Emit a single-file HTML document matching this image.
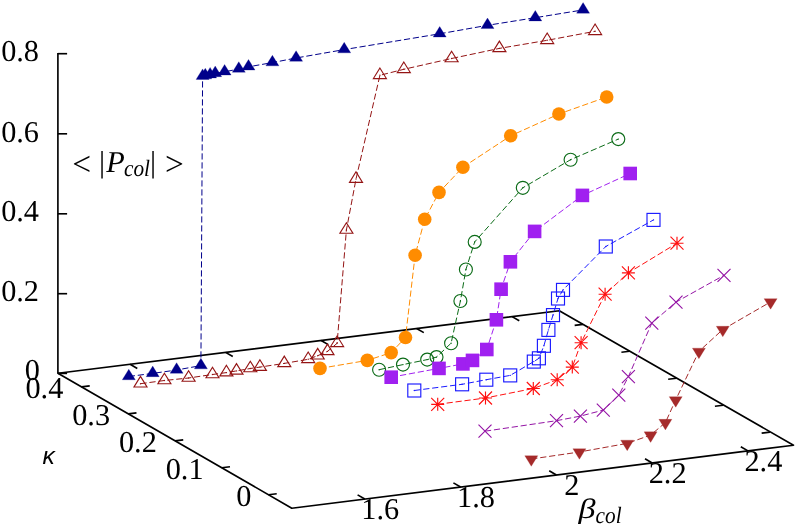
<!DOCTYPE html>
<html><head><meta charset="utf-8"><title>plot</title>
<style>html,body{margin:0;padding:0;background:#fff;}body{width:797px;height:525px;overflow:hidden;font-family:"Liberation Serif",serif;}</style></head>
<body>
<svg width="797" height="525" viewBox="0 0 797 525" style="display:block;will-change:transform">
<rect width="797" height="525" fill="#fff"/>
<g stroke-linecap="butt">
<path d="M57.9,373.3 L559.3,310.7 L793.5,445.2 L291.8,508.2 Z" fill="none" stroke="#000" stroke-width="1.65" stroke-linejoin="round"/>
<line x1="57.90" y1="52.95" x2="57.90" y2="373.30" stroke="#000" stroke-width="1.65" />
<line x1="57.90" y1="53.70" x2="67.10" y2="53.70" stroke="#000" stroke-width="1.65" />
<line x1="57.90" y1="133.80" x2="67.10" y2="133.80" stroke="#000" stroke-width="1.65" />
<line x1="57.90" y1="213.80" x2="67.10" y2="213.80" stroke="#000" stroke-width="1.65" />
<line x1="57.90" y1="293.70" x2="67.10" y2="293.70" stroke="#000" stroke-width="1.65" />
<line x1="57.90" y1="373.40" x2="67.10" y2="373.40" stroke="#000" stroke-width="1.65" />
<line x1="364.80" y1="499.03" x2="357.61" y2="494.89" stroke="#000" stroke-width="1.65" />
<line x1="130.10" y1="364.29" x2="137.29" y2="368.43" stroke="#000" stroke-width="1.65" />
<line x1="460.60" y1="487.00" x2="453.41" y2="482.86" stroke="#000" stroke-width="1.65" />
<line x1="225.60" y1="352.36" x2="232.79" y2="356.51" stroke="#000" stroke-width="1.65" />
<line x1="556.40" y1="474.97" x2="549.21" y2="470.83" stroke="#000" stroke-width="1.65" />
<line x1="321.10" y1="340.44" x2="328.29" y2="344.59" stroke="#000" stroke-width="1.65" />
<line x1="652.20" y1="462.94" x2="645.01" y2="458.80" stroke="#000" stroke-width="1.65" />
<line x1="416.60" y1="328.52" x2="423.79" y2="332.66" stroke="#000" stroke-width="1.65" />
<line x1="748.00" y1="450.91" x2="740.81" y2="446.77" stroke="#000" stroke-width="1.65" />
<line x1="512.10" y1="316.59" x2="519.29" y2="320.74" stroke="#000" stroke-width="1.65" />
<line x1="81.50" y1="386.91" x2="89.74" y2="385.88" stroke="#000" stroke-width="1.65" />
<line x1="582.90" y1="324.31" x2="574.66" y2="325.34" stroke="#000" stroke-width="1.65" />
<line x1="128.25" y1="413.87" x2="136.49" y2="412.85" stroke="#000" stroke-width="1.65" />
<line x1="629.65" y1="351.27" x2="621.41" y2="352.30" stroke="#000" stroke-width="1.65" />
<line x1="175.00" y1="440.84" x2="183.24" y2="439.81" stroke="#000" stroke-width="1.65" />
<line x1="676.40" y1="378.24" x2="668.16" y2="379.26" stroke="#000" stroke-width="1.65" />
<line x1="221.75" y1="467.80" x2="229.99" y2="466.77" stroke="#000" stroke-width="1.65" />
<line x1="723.15" y1="405.20" x2="714.91" y2="406.23" stroke="#000" stroke-width="1.65" />
<line x1="268.50" y1="494.76" x2="276.74" y2="493.73" stroke="#000" stroke-width="1.65" />
<line x1="769.90" y1="432.16" x2="761.66" y2="433.19" stroke="#000" stroke-width="1.65" />
</g>
<path d="M128.80,376.50 L152.70,373.40 L176.60,370.00 L200.90,365.60 L202.60,76.20 L205.30,75.60 L210.10,74.70 L215.20,73.40 L224.60,71.80 L238.80,69.00 L248.50,66.80 L272.40,62.60 L296.10,58.00 L344.20,49.60 L439.70,33.80 L487.50,25.30 L535.30,17.70 L583.10,9.90" fill="none" stroke="#00008b" stroke-width="1.0" stroke-dasharray="6.2 2.8"/>
<path d="M128.80,369.22 L122.30,379.75 L135.30,379.75 Z" fill="#00008b" stroke="#00008b" stroke-width="0.25" stroke-linejoin="miter"/>
<path d="M152.70,366.12 L146.20,376.65 L159.20,376.65 Z" fill="#00008b" stroke="#00008b" stroke-width="0.25" stroke-linejoin="miter"/>
<path d="M176.60,362.72 L170.10,373.25 L183.10,373.25 Z" fill="#00008b" stroke="#00008b" stroke-width="0.25" stroke-linejoin="miter"/>
<path d="M200.90,358.32 L194.40,368.85 L207.40,368.85 Z" fill="#00008b" stroke="#00008b" stroke-width="0.25" stroke-linejoin="miter"/>
<path d="M202.60,68.92 L196.10,79.45 L209.10,79.45 Z" fill="#00008b" stroke="#00008b" stroke-width="0.25" stroke-linejoin="miter"/>
<path d="M205.30,68.32 L198.80,78.85 L211.80,78.85 Z" fill="#00008b" stroke="#00008b" stroke-width="0.25" stroke-linejoin="miter"/>
<path d="M210.10,67.42 L203.60,77.95 L216.60,77.95 Z" fill="#00008b" stroke="#00008b" stroke-width="0.25" stroke-linejoin="miter"/>
<path d="M215.20,66.12 L208.70,76.65 L221.70,76.65 Z" fill="#00008b" stroke="#00008b" stroke-width="0.25" stroke-linejoin="miter"/>
<path d="M224.60,64.52 L218.10,75.05 L231.10,75.05 Z" fill="#00008b" stroke="#00008b" stroke-width="0.25" stroke-linejoin="miter"/>
<path d="M238.80,61.72 L232.30,72.25 L245.30,72.25 Z" fill="#00008b" stroke="#00008b" stroke-width="0.25" stroke-linejoin="miter"/>
<path d="M248.50,59.52 L242.00,70.05 L255.00,70.05 Z" fill="#00008b" stroke="#00008b" stroke-width="0.25" stroke-linejoin="miter"/>
<path d="M272.40,55.32 L265.90,65.85 L278.90,65.85 Z" fill="#00008b" stroke="#00008b" stroke-width="0.25" stroke-linejoin="miter"/>
<path d="M296.10,50.72 L289.60,61.25 L302.60,61.25 Z" fill="#00008b" stroke="#00008b" stroke-width="0.25" stroke-linejoin="miter"/>
<path d="M344.20,42.32 L337.70,52.85 L350.70,52.85 Z" fill="#00008b" stroke="#00008b" stroke-width="0.25" stroke-linejoin="miter"/>
<path d="M439.70,26.52 L433.20,37.05 L446.20,37.05 Z" fill="#00008b" stroke="#00008b" stroke-width="0.25" stroke-linejoin="miter"/>
<path d="M487.50,18.02 L481.00,28.55 L494.00,28.55 Z" fill="#00008b" stroke="#00008b" stroke-width="0.25" stroke-linejoin="miter"/>
<path d="M535.30,10.42 L528.80,20.95 L541.80,20.95 Z" fill="#00008b" stroke="#00008b" stroke-width="0.25" stroke-linejoin="miter"/>
<path d="M583.10,2.62 L576.60,13.15 L589.60,13.15 Z" fill="#00008b" stroke="#00008b" stroke-width="0.25" stroke-linejoin="miter"/>
<path d="M140.50,383.70 L164.40,380.50 L188.60,378.00 L212.50,374.50 L226.40,372.60 L236.50,370.90 L250.30,368.50 L259.90,367.10 L284.30,363.40 L308.20,359.30 L317.70,355.70 L327.50,351.40 L337.10,343.30 L346.40,230.00 L356.00,179.10 L379.90,75.30 L403.80,69.30 L451.60,58.50 L499.40,48.40 L547.20,40.30 L595.10,31.30" fill="none" stroke="#941414" stroke-width="1.0" stroke-dasharray="6.2 2.8"/>
<path d="M140.50,376.42 L134.00,386.95 L147.00,386.95 Z" fill="none" stroke="#941414" stroke-width="1.15" stroke-linejoin="miter"/>
<circle cx="140.50" cy="383.70" r="0.7" fill="#941414"/>
<path d="M164.40,373.22 L157.90,383.75 L170.90,383.75 Z" fill="none" stroke="#941414" stroke-width="1.15" stroke-linejoin="miter"/>
<circle cx="164.40" cy="380.50" r="0.7" fill="#941414"/>
<path d="M188.60,370.72 L182.10,381.25 L195.10,381.25 Z" fill="none" stroke="#941414" stroke-width="1.15" stroke-linejoin="miter"/>
<circle cx="188.60" cy="378.00" r="0.7" fill="#941414"/>
<path d="M212.50,367.22 L206.00,377.75 L219.00,377.75 Z" fill="none" stroke="#941414" stroke-width="1.15" stroke-linejoin="miter"/>
<circle cx="212.50" cy="374.50" r="0.7" fill="#941414"/>
<path d="M226.40,365.32 L219.90,375.85 L232.90,375.85 Z" fill="none" stroke="#941414" stroke-width="1.15" stroke-linejoin="miter"/>
<circle cx="226.40" cy="372.60" r="0.7" fill="#941414"/>
<path d="M236.50,363.62 L230.00,374.15 L243.00,374.15 Z" fill="none" stroke="#941414" stroke-width="1.15" stroke-linejoin="miter"/>
<circle cx="236.50" cy="370.90" r="0.7" fill="#941414"/>
<path d="M250.30,361.22 L243.80,371.75 L256.80,371.75 Z" fill="none" stroke="#941414" stroke-width="1.15" stroke-linejoin="miter"/>
<circle cx="250.30" cy="368.50" r="0.7" fill="#941414"/>
<path d="M259.90,359.82 L253.40,370.35 L266.40,370.35 Z" fill="none" stroke="#941414" stroke-width="1.15" stroke-linejoin="miter"/>
<circle cx="259.90" cy="367.10" r="0.7" fill="#941414"/>
<path d="M284.30,356.12 L277.80,366.65 L290.80,366.65 Z" fill="none" stroke="#941414" stroke-width="1.15" stroke-linejoin="miter"/>
<circle cx="284.30" cy="363.40" r="0.7" fill="#941414"/>
<path d="M308.20,352.02 L301.70,362.55 L314.70,362.55 Z" fill="none" stroke="#941414" stroke-width="1.15" stroke-linejoin="miter"/>
<circle cx="308.20" cy="359.30" r="0.7" fill="#941414"/>
<path d="M317.70,348.42 L311.20,358.95 L324.20,358.95 Z" fill="none" stroke="#941414" stroke-width="1.15" stroke-linejoin="miter"/>
<circle cx="317.70" cy="355.70" r="0.7" fill="#941414"/>
<path d="M327.50,344.12 L321.00,354.65 L334.00,354.65 Z" fill="none" stroke="#941414" stroke-width="1.15" stroke-linejoin="miter"/>
<circle cx="327.50" cy="351.40" r="0.7" fill="#941414"/>
<path d="M337.10,336.02 L330.60,346.55 L343.60,346.55 Z" fill="none" stroke="#941414" stroke-width="1.15" stroke-linejoin="miter"/>
<circle cx="337.10" cy="343.30" r="0.7" fill="#941414"/>
<path d="M346.40,222.72 L339.90,233.25 L352.90,233.25 Z" fill="none" stroke="#941414" stroke-width="1.15" stroke-linejoin="miter"/>
<circle cx="346.40" cy="230.00" r="0.7" fill="#941414"/>
<path d="M356.00,171.82 L349.50,182.35 L362.50,182.35 Z" fill="none" stroke="#941414" stroke-width="1.15" stroke-linejoin="miter"/>
<circle cx="356.00" cy="179.10" r="0.7" fill="#941414"/>
<path d="M379.90,68.02 L373.40,78.55 L386.40,78.55 Z" fill="none" stroke="#941414" stroke-width="1.15" stroke-linejoin="miter"/>
<circle cx="379.90" cy="75.30" r="0.7" fill="#941414"/>
<path d="M403.80,62.02 L397.30,72.55 L410.30,72.55 Z" fill="none" stroke="#941414" stroke-width="1.15" stroke-linejoin="miter"/>
<circle cx="403.80" cy="69.30" r="0.7" fill="#941414"/>
<path d="M451.60,51.22 L445.10,61.75 L458.10,61.75 Z" fill="none" stroke="#941414" stroke-width="1.15" stroke-linejoin="miter"/>
<circle cx="451.60" cy="58.50" r="0.7" fill="#941414"/>
<path d="M499.40,41.12 L492.90,51.65 L505.90,51.65 Z" fill="none" stroke="#941414" stroke-width="1.15" stroke-linejoin="miter"/>
<circle cx="499.40" cy="48.40" r="0.7" fill="#941414"/>
<path d="M547.20,33.02 L540.70,43.55 L553.70,43.55 Z" fill="none" stroke="#941414" stroke-width="1.15" stroke-linejoin="miter"/>
<circle cx="547.20" cy="40.30" r="0.7" fill="#941414"/>
<path d="M595.10,24.02 L588.60,34.55 L601.60,34.55 Z" fill="none" stroke="#941414" stroke-width="1.15" stroke-linejoin="miter"/>
<circle cx="595.10" cy="31.30" r="0.7" fill="#941414"/>
<path d="M320.00,368.40 L367.30,360.40 L391.20,352.60 L405.50,337.50 L415.10,255.30 L424.70,219.30 L439.00,192.40 L462.90,167.20 L510.70,135.80 L558.90,114.00 L606.70,97.00" fill="none" stroke="#ff8c00" stroke-width="1.0" stroke-dasharray="6.2 2.8"/>
<circle cx="320.00" cy="368.40" r="6.80" fill="#ff8c00"/>
<circle cx="367.30" cy="360.40" r="6.80" fill="#ff8c00"/>
<circle cx="391.20" cy="352.60" r="6.80" fill="#ff8c00"/>
<circle cx="405.50" cy="337.50" r="6.80" fill="#ff8c00"/>
<circle cx="415.10" cy="255.30" r="6.80" fill="#ff8c00"/>
<circle cx="424.70" cy="219.30" r="6.80" fill="#ff8c00"/>
<circle cx="439.00" cy="192.40" r="6.80" fill="#ff8c00"/>
<circle cx="462.90" cy="167.20" r="6.80" fill="#ff8c00"/>
<circle cx="510.70" cy="135.80" r="6.80" fill="#ff8c00"/>
<circle cx="558.90" cy="114.00" r="6.80" fill="#ff8c00"/>
<circle cx="606.70" cy="97.00" r="6.80" fill="#ff8c00"/>
<path d="M379.10,369.70 L403.00,364.60 L427.20,359.60 L436.50,357.10 L451.10,343.20 L460.40,301.00 L465.90,269.50 L474.70,241.90 L522.80,187.80 L570.60,159.70 L618.30,139.10" fill="none" stroke="#0b6b17" stroke-width="1.0" stroke-dasharray="6.2 2.8"/>
<circle cx="379.10" cy="369.70" r="6.50" fill="none" stroke="#0b6b17" stroke-width="1.15"/>
<circle cx="379.10" cy="369.70" r="0.7" fill="#0b6b17"/>
<circle cx="403.00" cy="364.60" r="6.50" fill="none" stroke="#0b6b17" stroke-width="1.15"/>
<circle cx="403.00" cy="364.60" r="0.7" fill="#0b6b17"/>
<circle cx="427.20" cy="359.60" r="6.50" fill="none" stroke="#0b6b17" stroke-width="1.15"/>
<circle cx="427.20" cy="359.60" r="0.7" fill="#0b6b17"/>
<circle cx="436.50" cy="357.10" r="6.50" fill="none" stroke="#0b6b17" stroke-width="1.15"/>
<circle cx="436.50" cy="357.10" r="0.7" fill="#0b6b17"/>
<circle cx="451.10" cy="343.20" r="6.50" fill="none" stroke="#0b6b17" stroke-width="1.15"/>
<circle cx="451.10" cy="343.20" r="0.7" fill="#0b6b17"/>
<circle cx="460.40" cy="301.00" r="6.50" fill="none" stroke="#0b6b17" stroke-width="1.15"/>
<circle cx="460.40" cy="301.00" r="0.7" fill="#0b6b17"/>
<circle cx="465.90" cy="269.50" r="6.50" fill="none" stroke="#0b6b17" stroke-width="1.15"/>
<circle cx="465.90" cy="269.50" r="0.7" fill="#0b6b17"/>
<circle cx="474.70" cy="241.90" r="6.50" fill="none" stroke="#0b6b17" stroke-width="1.15"/>
<circle cx="474.70" cy="241.90" r="0.7" fill="#0b6b17"/>
<circle cx="522.80" cy="187.80" r="6.50" fill="none" stroke="#0b6b17" stroke-width="1.15"/>
<circle cx="522.80" cy="187.80" r="0.7" fill="#0b6b17"/>
<circle cx="570.60" cy="159.70" r="6.50" fill="none" stroke="#0b6b17" stroke-width="1.15"/>
<circle cx="570.60" cy="159.70" r="0.7" fill="#0b6b17"/>
<circle cx="618.30" cy="139.10" r="6.50" fill="none" stroke="#0b6b17" stroke-width="1.15"/>
<circle cx="618.30" cy="139.10" r="0.7" fill="#0b6b17"/>
<path d="M391.20,377.20 L439.00,368.40 L462.90,363.90 L472.50,360.40 L486.80,349.50 L496.40,319.80 L501.10,289.20 L510.40,261.80 L534.60,231.40 L582.40,195.40 L630.20,173.50" fill="none" stroke="#a020f0" stroke-width="1.0" stroke-dasharray="6.2 2.8"/>
<rect x="384.40" y="370.40" width="13.60" height="13.60" fill="#a020f0"/>
<rect x="432.20" y="361.60" width="13.60" height="13.60" fill="#a020f0"/>
<rect x="456.10" y="357.10" width="13.60" height="13.60" fill="#a020f0"/>
<rect x="465.70" y="353.60" width="13.60" height="13.60" fill="#a020f0"/>
<rect x="480.00" y="342.70" width="13.60" height="13.60" fill="#a020f0"/>
<rect x="489.60" y="313.00" width="13.60" height="13.60" fill="#a020f0"/>
<rect x="494.30" y="282.40" width="13.60" height="13.60" fill="#a020f0"/>
<rect x="503.60" y="255.00" width="13.60" height="13.60" fill="#a020f0"/>
<rect x="527.80" y="224.60" width="13.60" height="13.60" fill="#a020f0"/>
<rect x="575.60" y="188.60" width="13.60" height="13.60" fill="#a020f0"/>
<rect x="623.40" y="166.70" width="13.60" height="13.60" fill="#a020f0"/>
<path d="M414.30,390.50 L462.10,384.30 L486.30,379.70 L510.20,375.40 L533.80,361.60 L538.90,358.30 L543.90,345.80 L548.40,329.90 L553.00,315.10 L558.00,298.50 L563.00,289.90 L605.80,246.50 L653.50,219.90" fill="none" stroke="#1a1aff" stroke-width="1.0" stroke-dasharray="6.2 2.8"/>
<rect x="407.80" y="384.00" width="13.00" height="13.00" fill="none" stroke="#1a1aff" stroke-width="1.15"/>
<circle cx="414.30" cy="390.50" r="0.7" fill="#1a1aff"/>
<rect x="455.60" y="377.80" width="13.00" height="13.00" fill="none" stroke="#1a1aff" stroke-width="1.15"/>
<circle cx="462.10" cy="384.30" r="0.7" fill="#1a1aff"/>
<rect x="479.80" y="373.20" width="13.00" height="13.00" fill="none" stroke="#1a1aff" stroke-width="1.15"/>
<circle cx="486.30" cy="379.70" r="0.7" fill="#1a1aff"/>
<rect x="503.70" y="368.90" width="13.00" height="13.00" fill="none" stroke="#1a1aff" stroke-width="1.15"/>
<circle cx="510.20" cy="375.40" r="0.7" fill="#1a1aff"/>
<rect x="527.30" y="355.10" width="13.00" height="13.00" fill="none" stroke="#1a1aff" stroke-width="1.15"/>
<circle cx="533.80" cy="361.60" r="0.7" fill="#1a1aff"/>
<rect x="532.40" y="351.80" width="13.00" height="13.00" fill="none" stroke="#1a1aff" stroke-width="1.15"/>
<circle cx="538.90" cy="358.30" r="0.7" fill="#1a1aff"/>
<rect x="537.40" y="339.30" width="13.00" height="13.00" fill="none" stroke="#1a1aff" stroke-width="1.15"/>
<circle cx="543.90" cy="345.80" r="0.7" fill="#1a1aff"/>
<rect x="541.90" y="323.40" width="13.00" height="13.00" fill="none" stroke="#1a1aff" stroke-width="1.15"/>
<circle cx="548.40" cy="329.90" r="0.7" fill="#1a1aff"/>
<rect x="546.50" y="308.60" width="13.00" height="13.00" fill="none" stroke="#1a1aff" stroke-width="1.15"/>
<circle cx="553.00" cy="315.10" r="0.7" fill="#1a1aff"/>
<rect x="551.50" y="292.00" width="13.00" height="13.00" fill="none" stroke="#1a1aff" stroke-width="1.15"/>
<circle cx="558.00" cy="298.50" r="0.7" fill="#1a1aff"/>
<rect x="556.50" y="283.40" width="13.00" height="13.00" fill="none" stroke="#1a1aff" stroke-width="1.15"/>
<circle cx="563.00" cy="289.90" r="0.7" fill="#1a1aff"/>
<rect x="599.30" y="240.00" width="13.00" height="13.00" fill="none" stroke="#1a1aff" stroke-width="1.15"/>
<circle cx="605.80" cy="246.50" r="0.7" fill="#1a1aff"/>
<rect x="647.00" y="213.40" width="13.00" height="13.00" fill="none" stroke="#1a1aff" stroke-width="1.15"/>
<circle cx="653.50" cy="219.90" r="0.7" fill="#1a1aff"/>
<path d="M437.70,404.30 L485.50,398.00 L533.30,388.50 L557.20,379.70 L572.30,367.10 L581.10,342.70 L605.10,294.20 L628.40,272.80 L677.00,243.20" fill="none" stroke="#ff1010" stroke-width="1.0" stroke-dasharray="6.2 2.8"/>
<path d="M431.20,404.30H444.20M437.70,397.80V410.80M431.20,397.80L444.20,410.80M431.20,410.80L444.20,397.80" fill="none" stroke="#ff1010" stroke-width="1.15"/>
<path d="M479.00,398.00H492.00M485.50,391.50V404.50M479.00,391.50L492.00,404.50M479.00,404.50L492.00,391.50" fill="none" stroke="#ff1010" stroke-width="1.15"/>
<path d="M526.80,388.50H539.80M533.30,382.00V395.00M526.80,382.00L539.80,395.00M526.80,395.00L539.80,382.00" fill="none" stroke="#ff1010" stroke-width="1.15"/>
<path d="M550.70,379.70H563.70M557.20,373.20V386.20M550.70,373.20L563.70,386.20M550.70,386.20L563.70,373.20" fill="none" stroke="#ff1010" stroke-width="1.15"/>
<path d="M565.80,367.10H578.80M572.30,360.60V373.60M565.80,360.60L578.80,373.60M565.80,373.60L578.80,360.60" fill="none" stroke="#ff1010" stroke-width="1.15"/>
<path d="M574.60,342.70H587.60M581.10,336.20V349.20M574.60,336.20L587.60,349.20M574.60,349.20L587.60,336.20" fill="none" stroke="#ff1010" stroke-width="1.15"/>
<path d="M598.60,294.20H611.60M605.10,287.70V300.70M598.60,287.70L611.60,300.70M598.60,300.70L611.60,287.70" fill="none" stroke="#ff1010" stroke-width="1.15"/>
<path d="M621.90,272.80H634.90M628.40,266.30V279.30M621.90,266.30L634.90,279.30M621.90,279.30L634.90,266.30" fill="none" stroke="#ff1010" stroke-width="1.15"/>
<path d="M670.50,243.20H683.50M677.00,236.70V249.70M670.50,236.70L683.50,249.70M670.50,249.70L683.50,236.70" fill="none" stroke="#ff1010" stroke-width="1.15"/>
<path d="M485.00,431.20 L556.50,420.70 L580.40,416.10 L603.30,410.10 L618.80,395.20 L628.40,376.70 L651.80,323.10 L676.00,302.10 L724.00,275.30" fill="none" stroke="#9414a5" stroke-width="1.0" stroke-dasharray="6.2 2.8"/>
<path d="M478.50,424.70L491.50,437.70M478.50,437.70L491.50,424.70" fill="none" stroke="#9414a5" stroke-width="1.15"/>
<path d="M550.00,414.20L563.00,427.20M550.00,427.20L563.00,414.20" fill="none" stroke="#9414a5" stroke-width="1.15"/>
<path d="M573.90,409.60L586.90,422.60M573.90,422.60L586.90,409.60" fill="none" stroke="#9414a5" stroke-width="1.15"/>
<path d="M596.80,403.60L609.80,416.60M596.80,416.60L609.80,403.60" fill="none" stroke="#9414a5" stroke-width="1.15"/>
<path d="M612.30,388.70L625.30,401.70M612.30,401.70L625.30,388.70" fill="none" stroke="#9414a5" stroke-width="1.15"/>
<path d="M621.90,370.20L634.90,383.20M621.90,383.20L634.90,370.20" fill="none" stroke="#9414a5" stroke-width="1.15"/>
<path d="M645.30,316.60L658.30,329.60M645.30,329.60L658.30,316.60" fill="none" stroke="#9414a5" stroke-width="1.15"/>
<path d="M669.50,295.60L682.50,308.60M669.50,308.60L682.50,295.60" fill="none" stroke="#9414a5" stroke-width="1.15"/>
<path d="M717.50,268.80L730.50,281.80M717.50,281.80L730.50,268.80" fill="none" stroke="#9414a5" stroke-width="1.15"/>
<path d="M531.30,459.00 L579.40,452.00 L627.20,443.40 L650.60,435.10 L665.40,422.60 L675.70,399.90 L698.90,351.40 L722.80,329.50 L770.60,301.90" fill="none" stroke="#a52a2a" stroke-width="1.0" stroke-dasharray="6.2 2.8"/>
<path d="M531.30,466.28 L524.80,455.75 L537.80,455.75 Z" fill="#a52a2a" stroke="#a52a2a" stroke-width="0.25" stroke-linejoin="miter"/>
<path d="M579.40,459.28 L572.90,448.75 L585.90,448.75 Z" fill="#a52a2a" stroke="#a52a2a" stroke-width="0.25" stroke-linejoin="miter"/>
<path d="M627.20,450.68 L620.70,440.15 L633.70,440.15 Z" fill="#a52a2a" stroke="#a52a2a" stroke-width="0.25" stroke-linejoin="miter"/>
<path d="M650.60,442.38 L644.10,431.85 L657.10,431.85 Z" fill="#a52a2a" stroke="#a52a2a" stroke-width="0.25" stroke-linejoin="miter"/>
<path d="M665.40,429.88 L658.90,419.35 L671.90,419.35 Z" fill="#a52a2a" stroke="#a52a2a" stroke-width="0.25" stroke-linejoin="miter"/>
<path d="M675.70,407.18 L669.20,396.65 L682.20,396.65 Z" fill="#a52a2a" stroke="#a52a2a" stroke-width="0.25" stroke-linejoin="miter"/>
<path d="M698.90,358.68 L692.40,348.15 L705.40,348.15 Z" fill="#a52a2a" stroke="#a52a2a" stroke-width="0.25" stroke-linejoin="miter"/>
<path d="M722.80,336.78 L716.30,326.25 L729.30,326.25 Z" fill="#a52a2a" stroke="#a52a2a" stroke-width="0.25" stroke-linejoin="miter"/>
<path d="M770.60,309.18 L764.10,298.65 L777.10,298.65 Z" fill="#a52a2a" stroke="#a52a2a" stroke-width="0.25" stroke-linejoin="miter"/>
<g font-family="Liberation Serif, serif" font-size="30.3px" fill="#000" text-rendering="geometricPrecision">
<text x="39.0" y="61.40" text-anchor="end">0.8</text>
<text x="39.0" y="141.50" text-anchor="end">0.6</text>
<text x="39.0" y="221.00" text-anchor="end">0.4</text>
<text x="39.0" y="301.00" text-anchor="end">0.2</text>
<text x="39.9" y="380.4" text-anchor="end">0</text>
<text x="63.30" y="397.81" text-anchor="end">0.4</text>
<text x="110.05" y="424.77" text-anchor="end">0.3</text>
<text x="156.80" y="451.74" text-anchor="end">0.2</text>
<text x="203.55" y="478.70" text-anchor="end">0.1</text>
<text x="251.50" y="505.66" text-anchor="end">0</text>
<text x="380.20" y="518.93" text-anchor="middle">1.6</text>
<text x="476.00" y="506.90" text-anchor="middle">1.8</text>
<text x="571.80" y="494.87" text-anchor="middle">2</text>
<text x="667.60" y="482.84" text-anchor="middle">2.2</text>
<text x="763.40" y="470.81" text-anchor="middle">2.4</text>
<text x="72.3" y="175.2" font-size="33.4px">&lt;</text>
<text x="98.9" y="171.7">|</text>
<text x="106.3" y="171.7" font-style="italic">P</text>
<text transform="translate(124.0,176.20) scale(1,1.1)" font-style="italic" font-size="21.3px">col</text>
<text x="150.1" y="171.7">|</text>
<text x="164.9" y="175.2" font-size="33.4px">&gt;</text>
<text transform="translate(578.4,517.8) scale(1.22,1)" font-style="italic" font-size="28px">β</text>
<text transform="translate(595.6,522.9) scale(1,1.1)" font-style="italic" font-size="21.3px">col</text>
</g>
<text x="42.6" y="463.9" font-family="Liberation Sans, sans-serif" font-style="italic" font-size="24.5px" fill="#000">κ</text>
</svg>
</body></html>
